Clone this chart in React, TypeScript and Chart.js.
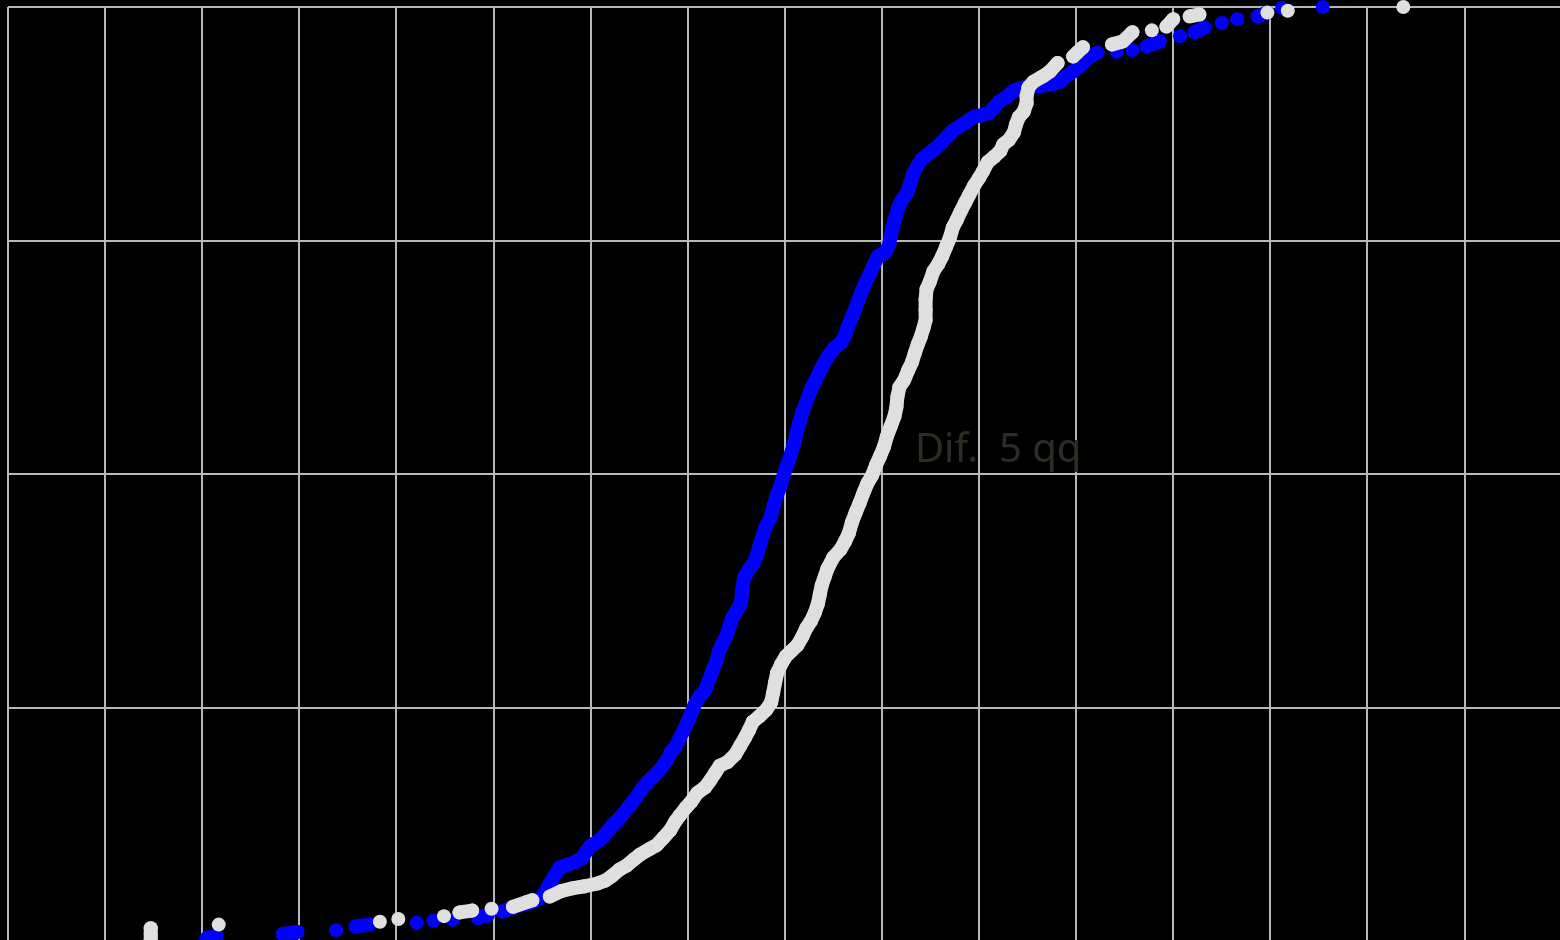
import React, { useEffect, useRef } from "react";
import { Chart, registerables } from "chart.js";

Chart.register(...registerables);

// Blue series (ECDF-like scatter)
const blueX = [
  -5.95, -5.85, -5.17, -5.02, -4.62, -4.42, -4.28, -3.79, -3.62, -3.42,
  -3.16, -3.06, -2.91, -2.81, -2.71, -2.63, -2.52, -2.47, -2.42, -2.36,
  -2.32, -2.24, -2.16, -2.09, -2.04, -2.0, -1.9, -1.83, -1.77, -1.7,
  -1.63, -1.56, -1.51, -1.46, -1.41, -1.36, -1.31, -1.26, -1.21, -1.17,
  -1.12, -1.08, -1.04, -1.0, -0.96, -0.93, -0.88, -0.82, -0.78, -0.74,
  -0.7, -0.68, -0.64, -0.6, -0.57, -0.54, -0.49, -0.45, -0.44, -0.42,
  -0.37, -0.32, -0.29, -0.26, -0.23, -0.2, -0.15, -0.12, -0.09, -0.05,
  -0.02, 0.01, 0.04, 0.07, 0.1, 0.12, 0.15, 0.18, 0.21, 0.25,
  0.28, 0.32, 0.36, 0.4, 0.45, 0.51, 0.58, 0.62, 0.65, 0.69,
  0.73, 0.76, 0.79, 0.83, 0.88, 0.92, 0.96, 1.03, 1.07, 1.09,
  1.11, 1.14, 1.17, 1.21, 1.26, 1.29, 1.32, 1.36, 1.41, 1.47,
  1.53, 1.6, 1.67, 1.73, 1.8, 1.87, 1.94, 2.02, 2.11, 2.15,
  2.21, 2.29, 2.35, 2.42, 2.49, 2.57, 2.66, 2.74, 2.83, 2.9,
  2.97, 3.04, 3.1, 3.16, 3.22, 3.42, 3.58, 3.73, 3.86, 4.07,
  4.22, 4.32, 4.5, 4.66, 4.87, 4.97, 5.12, 5.54,
];
const blueY = [
  0.004, 0.005, 0.008, 0.01, 0.012, 0.016, 0.018, 0.02, 0.022, 0.023,
  0.025, 0.028, 0.032, 0.036, 0.039, 0.041, 0.046, 0.052, 0.062, 0.072,
  0.079, 0.082, 0.085, 0.089, 0.097, 0.102, 0.109, 0.117, 0.125, 0.132,
  0.141, 0.15, 0.157, 0.165, 0.171, 0.176, 0.181, 0.187, 0.195, 0.203,
  0.209, 0.218, 0.226, 0.235, 0.245, 0.253, 0.262, 0.269, 0.28, 0.291,
  0.301, 0.31, 0.319, 0.327, 0.337, 0.346, 0.355, 0.363, 0.376, 0.389,
  0.398, 0.405, 0.413, 0.423, 0.433, 0.443, 0.453, 0.464, 0.475, 0.486,
  0.496, 0.506, 0.514, 0.524, 0.534, 0.544, 0.555, 0.566, 0.574, 0.585,
  0.593, 0.601, 0.61, 0.618, 0.627, 0.635, 0.641, 0.648, 0.658, 0.668,
  0.678, 0.687, 0.695, 0.705, 0.715, 0.725, 0.733, 0.737, 0.744, 0.754,
  0.764, 0.775, 0.786, 0.794, 0.801, 0.811, 0.821, 0.829, 0.837, 0.842,
  0.847, 0.853, 0.861, 0.868, 0.872, 0.877, 0.882, 0.884, 0.887, 0.892,
  0.899, 0.904, 0.91, 0.913, 0.914, 0.915, 0.916, 0.917, 0.92, 0.926,
  0.931, 0.937, 0.943, 0.948, 0.951, 0.952, 0.954, 0.958, 0.963, 0.969,
  0.973, 0.978, 0.983, 0.987, 0.99, 0.994, 0.999, 1.0,
];

// Light grey series
const grayX = [
  -6.53, -6.53, -6.53, -5.83, -4.17, -3.98, -3.51, -3.35, -3.22, -3.02, -2.8,
  -2.66, -2.6, -2.42, -2.3, -2.18, -2.06, -1.93, -1.85, -1.78, -1.7,
  -1.63, -1.55, -1.49, -1.39, -1.32, -1.25, -1.18, -1.13, -1.08, -1.02,
  -0.96, -0.9, -0.82, -0.77, -0.72, -0.67, -0.59, -0.51, -0.46, -0.41,
  -0.37, -0.33, -0.26, -0.19, -0.14, -0.12, -0.1, -0.08, -0.04, 0.01,
  0.07, 0.13, 0.18, 0.22, 0.27, 0.31, 0.34, 0.36, 0.38, 0.41,
  0.44, 0.5, 0.57, 0.62, 0.66, 0.69, 0.73, 0.77, 0.81, 0.85,
  0.9, 0.94, 0.98, 1.02, 1.05, 1.09, 1.13, 1.15, 1.16, 1.18,
  1.23, 1.27, 1.31, 1.34, 1.37, 1.4, 1.43, 1.45, 1.45, 1.45,
  1.46, 1.49, 1.53, 1.58, 1.62, 1.66, 1.7, 1.73, 1.77, 1.81,
  1.86, 1.9, 1.95, 2.0, 2.04, 2.09, 2.16, 2.22, 2.25, 2.31,
  2.36, 2.38, 2.41, 2.46, 2.49, 2.49, 2.51, 2.56, 2.66, 2.73,
  2.81, 2.97, 3.01, 3.07, 3.37, 3.48, 3.58, 3.78, 3.93, 4.0,
  4.17, 4.27, 4.97, 5.18, 6.37,
];
const grayY = [
  0.002, 0.008, 0.014, 0.018, 0.021, 0.024, 0.027, 0.031, 0.033, 0.035, 0.037,
  0.042, 0.044, 0.048, 0.054, 0.057, 0.059, 0.062, 0.065, 0.07, 0.077,
  0.081, 0.088, 0.093, 0.099, 0.103, 0.111, 0.119, 0.128, 0.135, 0.143,
  0.15, 0.159, 0.165, 0.172, 0.18, 0.188, 0.192, 0.2, 0.209, 0.218,
  0.226, 0.235, 0.241, 0.248, 0.256, 0.266, 0.277, 0.287, 0.296, 0.305,
  0.311, 0.317, 0.326, 0.335, 0.343, 0.352, 0.361, 0.371, 0.381, 0.39,
  0.399, 0.411, 0.419, 0.428, 0.437, 0.448, 0.459, 0.469, 0.48, 0.49,
  0.499, 0.51, 0.519, 0.529, 0.54, 0.551, 0.562, 0.572, 0.583, 0.593,
  0.601, 0.611, 0.62, 0.63, 0.639, 0.647, 0.657, 0.665, 0.676, 0.687,
  0.698, 0.705, 0.717, 0.725, 0.733, 0.743, 0.753, 0.764, 0.772, 0.781,
  0.791, 0.799, 0.809, 0.817, 0.824, 0.834, 0.84, 0.846, 0.853, 0.858,
  0.866, 0.874, 0.882, 0.888, 0.897, 0.905, 0.914, 0.92, 0.926, 0.931,
  0.94, 0.947, 0.951, 0.957, 0.96, 0.963, 0.973, 0.975, 0.979, 0.987,
  0.99, 0.992, 0.994, 0.996, 1.0,
];

const annotationText = "Dif.  5 qq";
const annotationX = 1.34;
const annotationY = 0.513;

const BLUE = "#0000ff";
const GRAY = "#dfdfdf";
const GRID = "#b8b8b8";

function pairs(xs: number[], ys: number[]) {
  return xs.map((x, i) => ({ x, y: ys[i] }));
}

export default function App() {
  const ref = useRef<HTMLCanvasElement>(null);

  useEffect(() => {
    if (!ref.current) return;
    const gapColor = (color: string) => (ctx: any) =>
      Math.hypot(ctx.p1.x - ctx.p0.x, ctx.p1.y - ctx.p0.y) > 15 ? "rgba(0,0,0,0)" : color;

    const mk = (label: string, xs: number[], ys: number[], color: string) => ({
      label,
      data: pairs(xs, ys),
      showLine: true,
      borderColor: color,
      backgroundColor: color,
      borderWidth: 14,
      borderCapStyle: "round" as const,
      borderJoinStyle: "round" as const,
      pointRadius: 7,
      pointHoverRadius: 7,
      pointBorderWidth: 0,
      pointBackgroundColor: color,
      tension: 0,
      clip: false as const,
      segment: { borderColor: gapColor(color) },
    });

    const textPlugin = {
      id: "difText",
      afterDatasetsDraw(chart: any) {
        const { ctx, scales } = chart;
        ctx.save();
        ctx.font = '40px "Noto Sans"';
        ctx.fillStyle = "#2f2b25";
        ctx.textAlign = "left";
        ctx.textBaseline = "alphabetic";
        ctx.fillText(
          annotationText,
          scales.x.getPixelForValue(annotationX),
          scales.y.getPixelForValue(annotationY)
        );
        ctx.restore();
      },
    };

    const chart = new Chart(ref.current, {
      type: "scatter",
      data: {
        datasets: [mk("B", grayX, grayY, GRAY), mk("A", blueX, blueY, BLUE)] as any,
      },
      options: {
        responsive: false,
        animation: false,
        events: [],
        layout: { padding: { left: 8, top: 7, right: 18.4, bottom: 18.6 } },
        plugins: { legend: { display: false }, tooltip: { enabled: false } },
        scales: {
          x: {
            type: "linear",
            min: -8,
            max: 8,
            ticks: { display: false, stepSize: 1 },
            grid: { color: GRID, lineWidth: 2, drawTicks: false },
            border: { display: false },
          },
          y: {
            type: "linear",
            min: 0,
            max: 1,
            ticks: { display: false, stepSize: 0.25 },
            grid: { color: GRID, lineWidth: 2, drawTicks: false },
            border: { display: false },
          },
        },
      },
      plugins: [textPlugin],
    });
    return () => chart.destroy();
  }, []);

  return (
    <div
      style={{
        position: "fixed",
        left: 0,
        top: 0,
        width: "100vw",
        height: "100vh",
        overflow: "hidden",
        background: "#000",
      }}
    >
      <canvas
        ref={ref}
        width={1580}
        height={960}
        style={{ display: "block", width: 1580, height: 960 }}
      />
    </div>
  );
}
